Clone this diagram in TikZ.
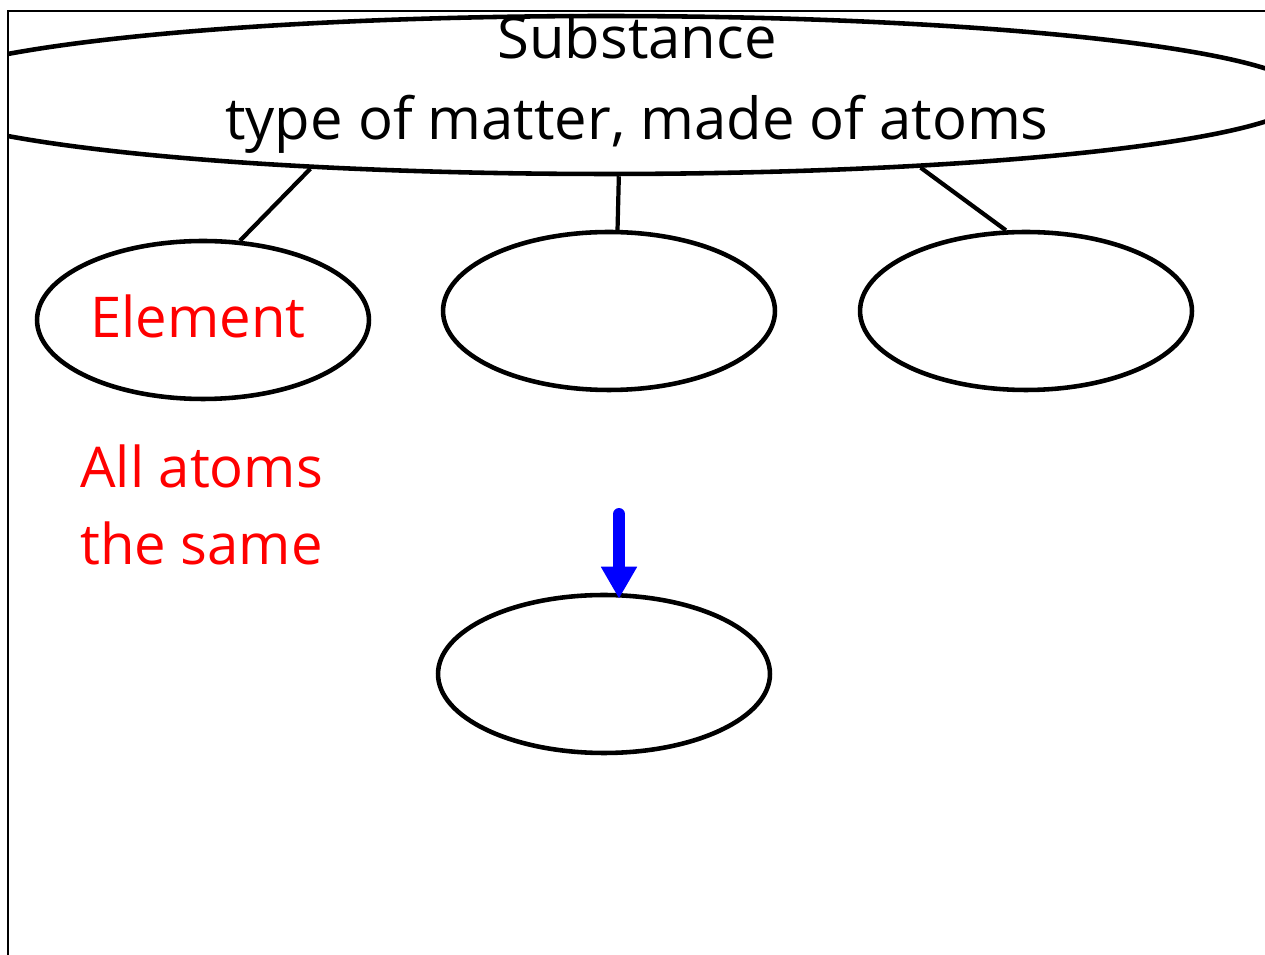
\documentclass[tikz,border=0pt]{standalone}
\usepackage{fontspec}
\setmainfont{Open Sans}
\usepackage{tikz}
\usetikzlibrary{arrows.meta,positioning,shapes.geometric}
\definecolor{markred}{HTML}{FF0000}
\definecolor{markblue}{HTML}{0000FF}
\tikzset{
  bubble/.style={
    ellipse, draw=black, line width=2.6pt, fill=white,
    minimum width=6.64cm, minimum height=3.16cm, inner sep=0pt
  },
  bigbubble/.style={bubble, minimum width=28cm, minimum height=3.16cm},
  headtext/.style={align=center, font=\fontsize{33}{46}\selectfont},
  redtext/.style={text=markred, align=left, font=\fontsize{32}{44}\selectfont},
  branch/.style={line width=2.4pt, color=black},
  downarrow/.style={-{Triangle[width=0.68cm,length=0.64cm]}, line width=6.8pt,
    line cap=round, color=markblue, shorten >=-0.12cm},
}
\begin{document}
\begin{tikzpicture}[x=0.02cm, y=-0.02cm]
  \useasboundingbox (0,0) rectangle (1265,955);
  \begin{scope}
  \clip (8,11) rectangle (1265,955);
  \node[bigbubble] (subst) at (606,95) {};
  \end{scope}
  \draw[line width=1.2pt] (1265,11) -- (8,11) -- (8,955);
  \node[headtext] (substtext) at (637,84) {Substance\\type of matter, made of atoms};
  \node[bubble] (elem) at (203,320) {};
  \node[redtext, font=\fontsize{32}{40}\selectfont] (elemtext) at (198,316) {Element};
  \node[bubble] (mid) at (609,311) {};
  \node[bubble] (right) at (1026,311) {};
  \node[bubble] (low) at (604,674) {};
  \node[redtext, anchor=west] (sametext) at (74,505) {All atoms\\the same};

  \draw[branch] (subst.194.4) -- (elem.65);
  \draw[branch] (subst.279) -- (mid.84);
  \draw[branch] (subst.347) -- (right.104);

  \coordinate (arrowtop) at (619,514);
  \draw[downarrow] (arrowtop) -- (arrowtop |- low.north);
\end{tikzpicture}
\end{document}
